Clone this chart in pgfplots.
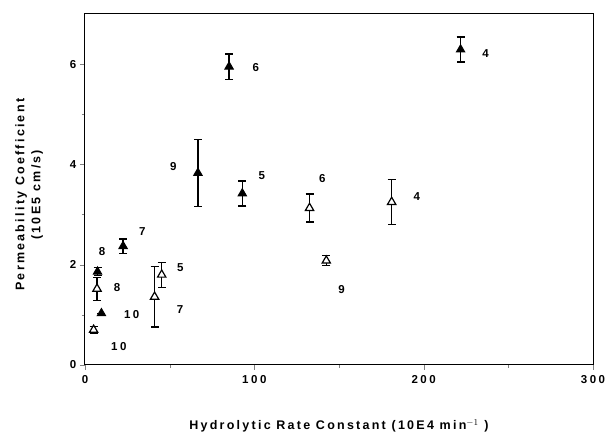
\documentclass[border=0pt]{standalone}
\usepackage{fontspec}
\setmainfont{Liberation Sans}
\newfontfamily\tickfont[LetterSpace=22]{Liberation Sans}
\newfontfamily\labfont[LetterSpace=18]{Liberation Sans}
\usepackage{pgfplots}
\pgfplotsset{compat=1.18}

\begin{document}
\begin{tikzpicture}
\begin{axis}[
    scale only axis,
    width=508pt, height=351pt,
    xmin=0, xmax=300, ymin=0, ymax=7,
    xtick={0,100,200,300}, ytick={0,2,4,6},
    minor xtick={50,150,250}, minor ytick={1,3,5},
    tick align=outside,
    major tick length=5pt, minor tick length=3pt,
    xtick pos=bottom, ytick pos=left,
    every axis/.append style={line width=1pt},
    /pgf/number format/assume math mode=true,
    ticklabel style={font=\tickfont\fontsize{11.5}{13}\selectfont\bfseries},
    x tick label style={yshift=-2pt},
    label style={font=\labfont\fontsize{12.5}{16}\selectfont\bfseries},
    xlabel={Hydrolytic Rate Constant (10E4 min$^{-1}$ )},
    xlabel style={at={(axis description cs:0.5,-0.174)}, anchor=center},
    ylabel={Permeability Coefficient\\(10E5 cm/s)},
    ylabel style={align=center, at={(axis description cs:-0.110,0.485)}, anchor=center},
    clip=false,
    extra description/.code={
        \draw[line width=1pt] (rel axis cs:0,0) rectangle (rel axis cs:1,1);
    },
]
% filled triangles
\addplot[only marks, black, mark=triangle*, mark size=4.8pt,
    error bars/.cd, y dir=both, y explicit,
    error bar style={line width=1.3pt},
    error mark options={rotate=90, mark size=4pt, line width=1.3pt}]
coordinates {
    (85.1, 5.95) +- (0, 0.25)
    (221.8, 6.29) +- (0, 0.25)
    (66.7, 3.83) +- (0, 0.67)
    (92.9, 3.42) +- (0, 0.25)
    (22.5, 2.37) +- (0, 0.14)
    (7.4, 1.86) +- (0, 0.08)
    (9.7, 1.03) +- (0, 0.0)
};
% open triangles
\addplot[only marks, black, mark=triangle*, mark size=4.8pt,
    mark options={fill=white, line width=1.2pt},
    error bars/.cd, y dir=both, y explicit,
    error bar style={line width=1.3pt},
    error mark options={rotate=90, mark size=4pt, line width=1.3pt}]
coordinates {
    (5.1, 0.70) +- (0, 0.07)
    (7.1, 1.52) +- (0, 0.23)
    (41.1, 1.36) +- (0, 0.60)
    (45.3, 1.80) +- (0, 0.25)
    (132.6, 3.13) +- (0, 0.28)
    (181.1, 3.25) +- (0, 0.45)
    (142.5, 2.08) +- (0, 0.10)
};
% number labels
\addplot[only marks, mark=none, nodes near coords, point meta=explicit symbolic,
    every node near coord/.style={anchor=center, font=\tickfont\fontsize{11.5}{13}\selectfont\bfseries}]
table[meta=lab] {
x y lab
100.9 5.94 6
236.6 6.21 4
52.2 3.96 9
104.4 3.78 5
140.2 3.71 6
195.9 3.35 4
33.8 2.67 7
10.1 2.26 8
56.3 1.94 5
18.9 1.55 8
151.5 1.50 9
27.6 1.00 10
56.1 1.11 7
20.0 0.37 10
};
\end{axis}
\path (current axis.south west) ++(-85pt,-71pt);
\path (current axis.north east) ++(17pt,14pt);
\end{tikzpicture}
\end{document}
